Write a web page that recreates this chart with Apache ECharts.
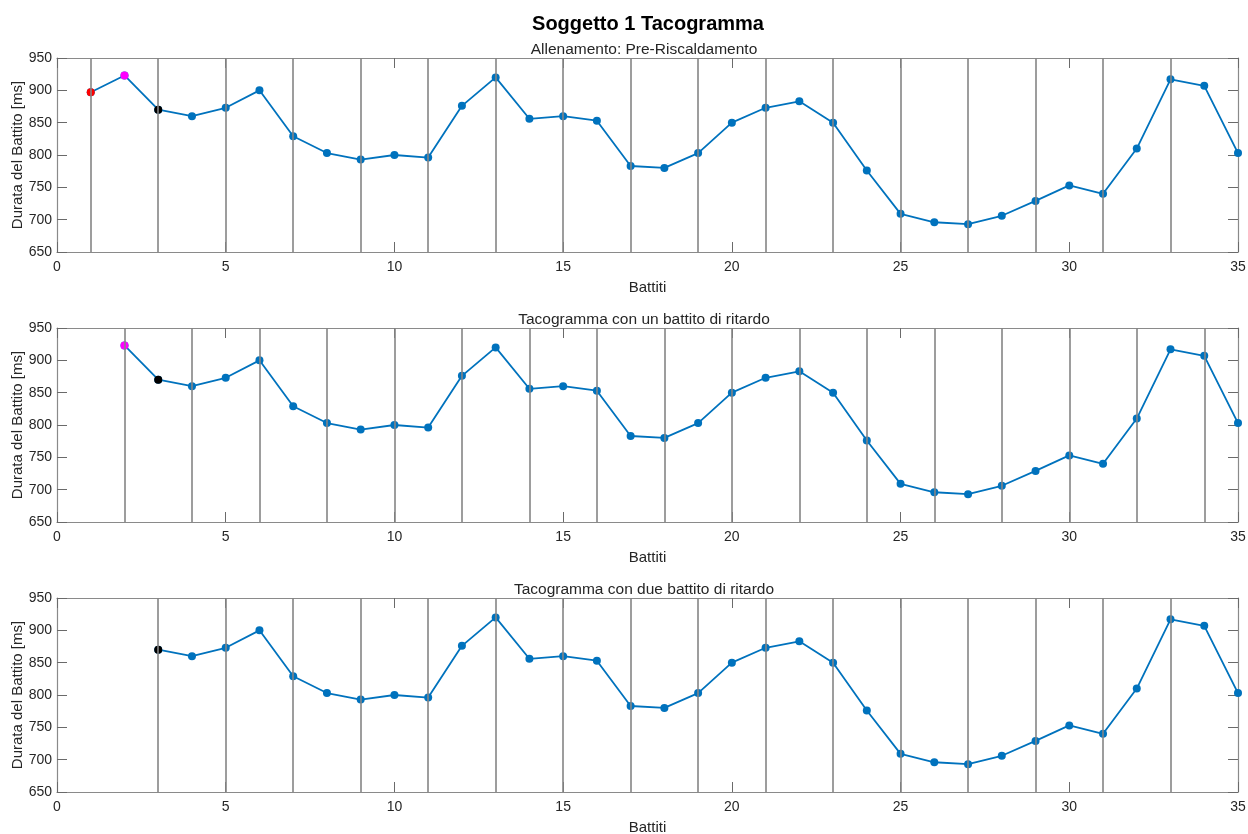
<!DOCTYPE html>
<html>
<head>
<meta charset="utf-8">
<title>Soggetto 1 Tacogramma</title>
<script src="https://cdn.jsdelivr.net/npm/echarts@6/dist/echarts.min.js"></script>
<style>
  html, body { margin: 0; padding: 0; background: #ffffff; }
  #chart { width: 1248px; height: 834px; }
</style>
</head>
<body>
<div id="chart"></div>
<script>
// Beat index and RR duration (ms) of each beat
const beats = [1,2,3,4,5,6,7,8,9,10,11,12,13,14,15,16,17,18,19,20,21,22,23,24,25,26,27,28,29,30,31,32,33,34,35];
const durations = [897,923,870,860,873,900,829,803,793,800,796,876,920,856,860,853,783,780,803,850,873,883,850,776,709,696,693,706,729,753,740,810,917,907,803];

// Panel titles
const mainTitle = 'Soggetto 1 Tacogramma';
const panelTitles = [
  'Allenamento: Pre-Riscaldamento',
  'Tacogramma con un battito di ritardo',
  'Tacogramma con due battito di ritardo'
];
const xName = 'Battiti';
const yName = 'Durata del Battito [ms]';

// First beat drawn in each panel (0, 1 and 2 beats of delay)
const panelStart = [1, 2, 3];

// Highlighted starting beats: beat number and colour
const highlightBeats = [1, 2, 3];
const highlightColors = ['#ff0000', '#ff00ff', '#000000'];

// Vertical marker lines for each panel
const markerLines = [
  [1,3,5,7,9,11,13,15,17,19,21,23,25,27,29,31,33],
  [2,4,6,8,10,12,14,16,18,20,22,24,26,28,30,32,34],
  [3,5,7,9,11,13,15,17,19,21,23,25,27,29,31,33]
];

// Axis ranges and ticks
const xMin = 0, xMax = 35, xStep = 5;
const yMin = 650, yMax = 950, yStep = 50;

const FONT = '"Liberation Sans", Arial, Helvetica, sans-serif';
const TEXT = '#262626';
const AXIS = '#8a8a8a';
const TICK = '#6a6a6a';
const LINE = '#0072BD';

const gridTops = [58, 328, 598];
const gridH = 194;

const grids = [], xAxes = [], yAxes = [], series = [];
const titles = [{
  text: mainTitle, left: 643, textAlign: 'center', top: 9,
  textStyle: { fontFamily: FONT, fontSize: 20, fontWeight: 'bold', color: '#000' }
}];

gridTops.forEach((top, p) => {
  grids.push({ left: 57, right: 10, top: top, height: gridH, containLabel: false, outerBoundsMode: 'none' });
  titles.push({
    text: panelTitles[p], left: 639, textAlign: 'center', top: top - 21,
    textStyle: { fontFamily: FONT, fontSize: 15.5, fontWeight: 'normal', color: TEXT }
  });

  const tickStyle = { show: true, inside: true, length: 10, lineStyle: { color: TICK, width: 1 } };
  // bottom x axis with labels
  xAxes.push({
    type: 'value', gridIndex: p, min: xMin, max: xMax, interval: xStep,
    name: xName, nameLocation: 'middle', nameGap: 28, nameMoveOverlap: false,
    nameTextStyle: { fontFamily: FONT, fontSize: 15, color: TEXT },
    axisLine: { show: true, onZero: false, lineStyle: { color: AXIS, width: 1.2 } },
    axisTick: tickStyle,
    axisLabel: { fontFamily: FONT, fontSize: 14, color: TEXT, margin: 8 },
    splitLine: { show: false }
  });
  // top border with ticks
  xAxes.push({
    type: 'value', gridIndex: p, position: 'top', min: xMin, max: xMax, interval: xStep,
    axisLine: { show: true, onZero: false, lineStyle: { color: AXIS, width: 1.2 } },
    axisTick: tickStyle, axisLabel: { show: false }, splitLine: { show: false }
  });
  // left y axis with labels
  yAxes.push({
    type: 'value', gridIndex: p, min: yMin, max: yMax, interval: yStep,
    name: yName, nameLocation: 'middle', nameGap: 32, nameRotate: 90, nameMoveOverlap: false,
    nameTextStyle: { fontFamily: FONT, fontSize: 15, color: TEXT },
    axisLine: { show: true, onZero: false, lineStyle: { color: AXIS, width: 1.2 } },
    axisTick: tickStyle,
    axisLabel: { fontFamily: FONT, fontSize: 14, color: TEXT, margin: 5 },
    splitLine: { show: false }
  });
  // right border with ticks
  yAxes.push({
    type: 'value', gridIndex: p, position: 'right', min: yMin, max: yMax, interval: yStep,
    axisLine: { show: true, onZero: false, lineStyle: { color: AXIS, width: 1.2 } },
    axisTick: tickStyle, axisLabel: { show: false }, splitLine: { show: false }
  });

  const xi = p * 2, yi = p * 2;
  const pts = [];
  beats.forEach((b, i) => { if (b >= panelStart[p]) pts.push([b, durations[i]]); });

  // vertical marker lines
  series.push({
    type: 'line', xAxisIndex: xi, yAxisIndex: yi, data: [], silent: true, z: 1,
    markLine: {
      silent: true, symbol: ['none', 'none'], animation: false,
      label: { show: false },
      lineStyle: { color: '#858585', width: 1.6, type: 'solid', opacity: 1 },
      emphasis: { disabled: true },
      data: markerLines[p].map(v => ({ xAxis: v }))
    }
  });

  // tachogram
  series.push({
    type: 'line', xAxisIndex: xi, yAxisIndex: yi, data: pts, z: 3,
    symbol: 'circle', symbolSize: 8, showAllSymbol: true,
    lineStyle: { color: LINE, width: 1.8 },
    itemStyle: { color: LINE, opacity: 1 },
    animation: false
  });

  // highlighted first beats
  const hl = [];
  highlightBeats.forEach((b, k) => {
    if (b >= panelStart[p]) {
      hl.push({ value: [b, durations[beats.indexOf(b)]], itemStyle: { color: highlightColors[k], opacity: 1 } });
    }
  });
  series.push({
    type: 'scatter', xAxisIndex: xi, yAxisIndex: yi, data: hl, z: 4,
    symbol: 'circle', symbolSize: 8, itemStyle: { opacity: 1 }, animation: false
  });
});

const chart = echarts.init(document.getElementById('chart'), null, { renderer: 'canvas' });
chart.setOption({
  backgroundColor: '#ffffff',
  animation: false,
  title: titles,
  grid: grids,
  xAxis: xAxes,
  yAxis: yAxes,
  series: series
});
</script>
</body>
</html>
